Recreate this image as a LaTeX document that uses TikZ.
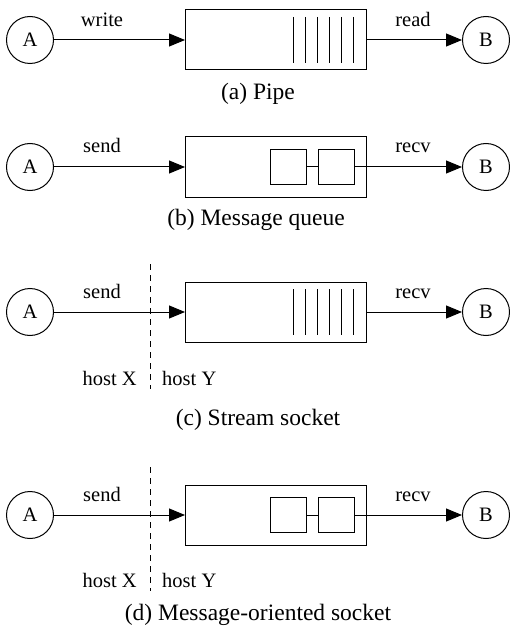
\documentclass[tikz,border=0pt]{standalone}
\usepackage{fontspec}
\setmainfont{Liberation Serif}
\usetikzlibrary{arrows.meta}
\begin{document}
\begin{tikzpicture}[x=1pt,y=-1pt,
  proc/.style={circle,draw,line width=1pt,minimum size=47pt,inner sep=0pt,font=\fontsize{20.5}{24}\selectfont},
  buf/.style={draw,line width=1pt,minimum width=181pt,minimum height=60pt,inner sep=0pt},
  msg/.style={draw,line width=1pt,minimum width=36pt,minimum height=35pt,inner sep=0pt},
  flow/.style={line width=1pt,-{Triangle[length=16pt,width=13pt]}},
  lbl/.style={font=\fontsize{20.5}{24}\selectfont,anchor=base,inner sep=0pt},
  captext/.style={font=\fontsize{23.5}{27}\selectfont,anchor=base,inner sep=0pt},
  slot/.style={line width=1pt},
  link/.style={line width=1pt},
  border/.style={line width=1pt,dash pattern=on 6pt off 5pt}]
\useasboundingbox (0,0) rectangle (509,631);

% (a) Pipe
\node[proc] (a1) at (30,40) {A};
\node[proc] (b1) at (486,40) {B};
\node[buf] (q1) at (276,40) {};
\foreach \x in {293,305,...,353} \draw[slot] (\x,17) -- (\x,63);
\draw[flow] (a1) -- (q1);
\draw[flow] (q1) -- (b1);
\node[lbl] (w1) at (102,27) {write};
\node[lbl] (r1) at (413,27) {read};
\node[captext] (c1) at (258,100) {(a) Pipe};

% (b) Message queue
\node[proc] (a2) at (30,167) {A};
\node[proc] (b2) at (486,167) {B};
\node[buf] (q2) at (276,167) {};
\node[msg] (m21) at (288,167) {};
\node[msg] (m22) at (336,167) {};
\draw[link] (m21) -- (m22);
\draw[flow] (a2) -- (q2);
\draw[flow] (m22) -- (b2);
\node[lbl] (w2) at (102,153) {send};
\node[lbl] (r2) at (413,153) {recv};
\node[captext] (c2) at (256,225) {(b) Message queue};

% (c) Stream socket
\coordinate (t3) at (150,264);
\coordinate (u3) at (150,389);
\draw[border] (t3) -- (u3);
\node[proc] (a3) at (30,312) {A};
\node[proc] (b3) at (486,312) {B};
\node[buf] (q3) at (276,312) {};
\foreach \x in {293,305,...,353} \draw[slot] (\x,289) -- (\x,335);
\draw[flow] (a3) -- (q3);
\draw[flow] (q3) -- (b3);
\node[lbl] (w3) at (102,298) {send};
\node[lbl] (r3) at (413,298) {recv};
\node[lbl,anchor=base east] (x3) at (137,385) {host X};
\node[lbl,anchor=base west] (y3) at (162,385) {host Y};
\node[captext] (c3) at (258,425) {(c) Stream socket};

% (d) Message-oriented socket
\coordinate (t4) at (150,467);
\coordinate (u4) at (150,591);
\draw[border] (t4) -- (u4);
\node[proc] (a4) at (30,515) {A};
\node[proc] (b4) at (486,515) {B};
\node[buf] (q4) at (276,515) {};
\node[msg] (m41) at (288,515) {};
\node[msg] (m42) at (336,515) {};
\draw[link] (m41) -- (m42);
\draw[flow] (a4) -- (q4);
\draw[flow] (m42) -- (b4);
\node[lbl] (w4) at (102,501) {send};
\node[lbl] (r4) at (413,501) {recv};
\node[lbl,anchor=base east] (x4) at (137,587) {host X};
\node[lbl,anchor=base west] (y4) at (162,587) {host Y};
\node[captext] (c4) at (258,620) {(d) Message-oriented socket};
\end{tikzpicture}
\end{document}
